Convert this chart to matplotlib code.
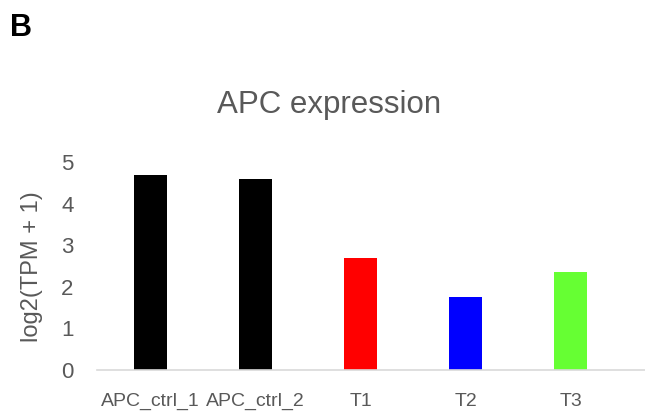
import matplotlib
matplotlib.use("Agg")
import matplotlib.pyplot as plt

plt.rcParams['font.family'] = ['Liberation Sans', 'DejaVu Sans']

samples = ["APC_ctrl_1", "APC_ctrl_2", "T1", "T2", "T3"]
log2_tpm = [4.69, 4.59, 2.70, 1.75, 2.36]
bar_colors = ["#000000", "#000000", "#ff0000", "#0000ff", "#66ff33"]
y_ticks = [0, 1, 2, 3, 4, 5]

W, H = 645, 413
fig = plt.figure(figsize=(W / 100, H / 100), dpi=100)

left_px, right_px = 97, 645
bottom_px, top_px = 369.5, 154
ax_w, ax_h = right_px - left_px, bottom_px - top_px
ax = fig.add_axes([left_px / W, 1 - bottom_px / H, ax_w / W, ax_h / H])

x = list(range(len(samples)))
ax.bar(x, log2_tpm, width=0.31, color=bar_colors, zorder=2)

ax.set_xlim(-0.511, 4.708)
ax.set_ylim(0, ax_h / 41.4)

for side in ("top", "right", "left"):
    ax.spines[side].set_visible(False)
ax.spines["bottom"].set_color("#d9d9d9")
ax.spines["bottom"].set_linewidth(1.2)

gray = "#595959"
ax.set_yticks(y_ticks)
ax.set_yticklabels([str(t) for t in y_ticks], fontsize=16, color=gray)
ax.set_xticks(x)
ax.set_xticklabels(samples, fontsize=14, color=gray)
ax.tick_params(axis="both", length=0)
ax.tick_params(axis="y", pad=17)
ax.tick_params(axis="x", pad=17)

ax.set_ylabel("log2(TPM + 1)", fontsize=17, color=gray)
ax.yaxis.set_label_coords((43 - left_px) / ax_w, (bottom_px - 267) / ax_h)

fig.text(329 / W, 1 - 105 / H, "APC expression", fontsize=22.5, color=gray,
         ha="center", va="center")
fig.text(10 / W, 1 - 36 / H, "B", fontsize=22, fontweight="bold",
         color="black", ha="left", va="baseline")

fig.savefig("out.png", dpi=100)
